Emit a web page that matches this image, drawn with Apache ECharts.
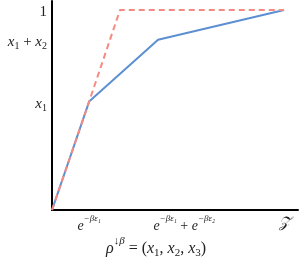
<!DOCTYPE html>
<html><head><meta charset="utf-8">
<script src="https://cdn.jsdelivr.net/npm/echarts@6/dist/echarts.min.js"></script>
<style>html,body{margin:0;padding:0;background:#fff}#c{width:299px;height:261px}</style>
</head><body><div id="c"></div>
<script>
// x positions (normalised, Z = 1) and y levels (normalised, total = 1)
const xTicks = [0.16, 0.57, 1.0];
const xTickLabels = ['{b|e}{s|−βε₁}', '{b|e}{s|−βε₁}{n| + }{b|e}{s|−βε₂}', '{z|𝒵}'];
const yTicks = [0.542, 0.851, 1.0];
const yTickLabels = ['{b|x}{u|1}', '{b|x}{u|1}{n| + }{b|x}{u|2}', '{n|1}'];
const blueX = [0, 0.16, 0.457, 1.0];
const blueY = [0, 0.542, 0.851, 1.0];
const redX = [0, 0.16, 0.293, 1.0];
const redY = [0, 0.542, 1.0, 1.0];
const titleText = '{b|ρ}{s|↓β}{n| = (}{b|x}{u|1}{n|, }{b|x}{u|2}{n|, }{b|x}{u|3}{n|)}';

const serif = '"Liberation Serif", "DejaVu Serif", serif';
function mkRich(big, small) {
  return {
    b: {fontFamily: serif, fontStyle: 'italic', fontWeight: 'normal', fontSize: big, color: '#222', lineHeight: big + 5, verticalAlign: 'bottom'},
    n: {fontFamily: serif, fontWeight: 'normal', fontSize: big, color: '#222', lineHeight: big + 5, verticalAlign: 'bottom'},
    s: {fontFamily: serif, fontStyle: 'italic', fontWeight: 'normal', fontSize: small, color: '#222', verticalAlign: 'top', lineHeight: small},
    u: {fontFamily: serif, fontWeight: 'normal', fontSize: small, color: '#222', verticalAlign: 'bottom', lineHeight: small, padding: [0,0,-2,0]},
    z: {fontFamily: serif, fontStyle: 'italic', fontWeight: 'normal', fontSize: big + 1, color: '#222', lineHeight: big + 5}
  };
}
const yRich = mkRich(15, 10);
const xRich = mkRich(14, 9);
const titleRich = mkRich(16, 11);

const chart = echarts.init(document.getElementById('c'), null, {renderer: 'canvas'});
chart.setOption({
  animation: false,
  title: {text: titleText, left: 101, top: 231, textStyle: {fontWeight: 'normal', rich: titleRich}},
  grid: {left: 52, right: 1, top: 1, bottom: 51},
  xAxis: {
    type: 'value', min: 0, max: 1.06,
    axisLine: {show: true, onZero: false, lineStyle: {color: '#000', width: 2}},
    axisTick: {show: false},
    splitLine: {show: false},
    axisLabel: {
      customValues: xTicks, margin: 4,
      formatter: v => xTickLabels[xTicks.indexOf(v)] || '',
      rich: xRich
    }
  },
  yAxis: {
    type: 'value', min: 0, max: 1.045,
    axisLine: {show: true, onZero: false, lineStyle: {color: '#000', width: 2}},
    axisTick: {show: false},
    splitLine: {show: false},
    axisLabel: {
      customValues: yTicks, margin: 5,
      formatter: v => yTickLabels[yTicks.indexOf(v)] || '',
      rich: yRich
    }
  },
  series: [
    {type: 'line', data: blueX.map((x, i) => [x, blueY[i]]), symbol: 'none',
     lineStyle: {color: '#5b8fd2', width: 2}, z: 2},
    {type: 'line', data: redX.map((x, i) => [x, redY[i]]), symbol: 'none',
     lineStyle: {color: '#f48a82', width: 2, type: [6, 4]}, z: 3}
  ]
});
</script></body></html>
